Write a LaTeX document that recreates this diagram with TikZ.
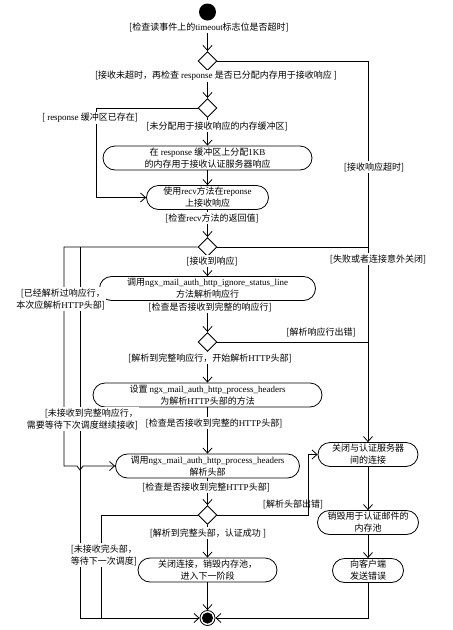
\documentclass[tikz,border=0pt]{standalone}
\usepackage{fontspec}
\setmainfont{Noto Sans CJK SC}
\newfontfamily\enfont{Liberation Serif}
\newcommand\enw[1]{{\enfont #1}}
\usetikzlibrary{shapes.geometric,arrows.meta}
\begin{document}
\begin{tikzpicture}[x=1pt,y=-1pt,
  every node/.style={font=\fontsize{9}{12}\selectfont},
  act/.style={draw,line width=0.8pt,rounded corners=12pt,minimum height=24pt,inner sep=1pt,align=center},
  dec/.style={draw,diamond,line width=0.9pt,minimum width=19pt,minimum height=19pt,inner sep=0pt},
  lab/.style={fill=white,inner sep=1pt,align=center},
  flow/.style={line width=0.8pt},
  arr/.style={flow,-{Straight Barb[length=5pt,width=9pt,line width=0.8pt]}}]
\useasboundingbox (0,0) rectangle (453,630);
% nodes
\node[circle,fill,minimum size=17pt,inner sep=0pt] (start) at (207.5,12) {};
\node[dec] (d1) at (207.5,61) {};
\node[dec] (d2) at (207.5,108) {};
\node[act,minimum width=209pt] (b1) at (207.5,158) {在 \enw{response} 缓冲区上分配\enw{1KB}\\的内存用于接收认证服务器响应};
\node[act,minimum width=122pt] (b2) at (207.5,197.5) {使用\enw{recv}方法在\enw{reponse}\\上接收响应};
\node[dec] (d3) at (207.5,247) {};
\node[act,minimum width=216pt] (b3) at (207.5,288.5) {调用\enw{ngx\_mail\_auth\_http\_ignore\_status\_line}\\方法解析响应行};
\node[dec] (d4) at (207.5,342) {};
\node[act,minimum width=229pt] (b4) at (207.5,395) {设置 \enw{ngx\_mail\_auth\_http\_process\_headers}\\为解析\enw{HTTP}头部的方法};
\node[act,minimum width=184pt] (b5) at (207.5,466) {调用\enw{ngx\_mail\_auth\_http\_process\_headers}\\解析头部};
\node[dec] (d5) at (207.5,515) {};
\node[act,minimum width=139pt] (b6) at (207.5,570) {关闭连接，销毁内存池，\\进入下一阶段};
\node[act,minimum width=100pt] (c1) at (368,454.5) {关闭与认证服务器\\间的连接};
\node[act,minimum width=101pt] (c2) at (368,522.5) {销毁用于认证邮件的\\内存池};
\node[act,minimum width=71pt] (c3) at (368,570.5) {向客户端\\发送错误};
\node[circle,draw,line width=0.8pt,minimum size=15pt,inner sep=0pt] (end) at (207.5,618) {};
\fill (end.center) circle (5.6pt);
\coordinate (la) at (96,108);
\coordinate (lb) at (64,247);
\coordinate (lc) at (80,247);
\coordinate (ld) at (101,618);
\coordinate (le) at (308,515);
% connectors
\draw[arr] (start) -- (d1);
\draw[arr] (d1) -- (d2);
\draw[arr] (d2) -- (b1);
\draw[arr] (b1) -- (b2);
\draw[arr] (b2) -- (d3);
\draw[arr] (d3) -- (b3);
\draw[arr] (b3) -- (d4);
\draw[arr] (d4) -- (b4);
\draw[arr] (b4) -- (b5);
\draw[arr] (b5) -- (d5);
\draw[arr] (d5) -- (b6);
\draw[arr] (b6) -- (end);
\draw[arr] (d1.east) -| (c1.north);
\draw[flow] (d3.east) -- (d3.east -| c1.north);
\draw[flow] (d4.east) -- (d4.east -| c1.north);
\draw[arr] (d2.west) -- (la) -- (la |- b2.west) -- (b2.west);
\draw[arr] (d3.west) -- (lb) -- (lb |- b5.west) -- ([xshift=-3pt]lc |- b5.west) -- ([yshift=-4pt]lc |- b5.west) -- ([xshift=3pt]lc |- b5.west) -- (b5.west);
\draw[arr] (lc) -- (lc |- end.west) -- (end.west);
\draw[flow] (d5.west) -| (ld);
\draw[arr] (d5.east) -- (le) -- (le |- c1.west) -- (c1.west);
\draw[arr] (c1) -- (c2);
\draw[arr] (c2) -- (c3);
\draw[arr] (c3.south) |- (end.east);
% labels
\node[lab] (l1) at (209,27) {[检查读事件上的\enw{timeout}标志位是否超时]};
\node[lab] (l2) at (216,76) {[接收未超时，再检查 \enw{response} 是否已分配内存用于接收响应 ]};
\node[lab] (l3) at (90,118) {[ \enw{response} 缓冲区已存在]};
\node[lab] (l4) at (217,126) {[未分配用于接收响应的内存缓冲区]};
\node[lab] (l5) at (374,167) {[接收响应超时]};
\node[lab] (l6) at (212,218) {[检查\enw{recv}方法的返回值]};
\node[lab] (l7) at (212,261) {[接收到响应]};
\node[lab] (l8) at (378,259) {[失败或者连接意外关闭]};
\node[lab,align=right,anchor=east] (l9) at (106,299) {[已经解析过响应行，\\本次应解析\enw{HTTP}头部]};
\node[lab] (l10) at (210,307) {[检查是否接收到完整的响应行]};
\node[lab] (l11) at (321,332) {[解析响应行出错]};
\node[lab] (l12) at (210,358) {[解析到完整响应行，开始解析\enw{HTTP}头部]};
\node[lab,align=right,anchor=east] (l13) at (139,419) {[未接收到完整响应行，\\需要等待下次调度继续接收]};
\node[lab] (l14) at (214,423) {[检查是否接收到完整的\enw{HTTP}头部]};
\node[lab] (l15) at (206,487) {[检查是否接收到完整\enw{HTTP}头部]};
\node[inner sep=1pt] (l16) at (293,504) {[解析头部出错]};
\node[lab] (l17) at (208,533) {[解析到完整头部，认证成功 ]};
\node[lab,align=right,anchor=east] (l18) at (138,555) {[未接收完头部，\\等待下一次调度]};
\end{tikzpicture}
\end{document}
